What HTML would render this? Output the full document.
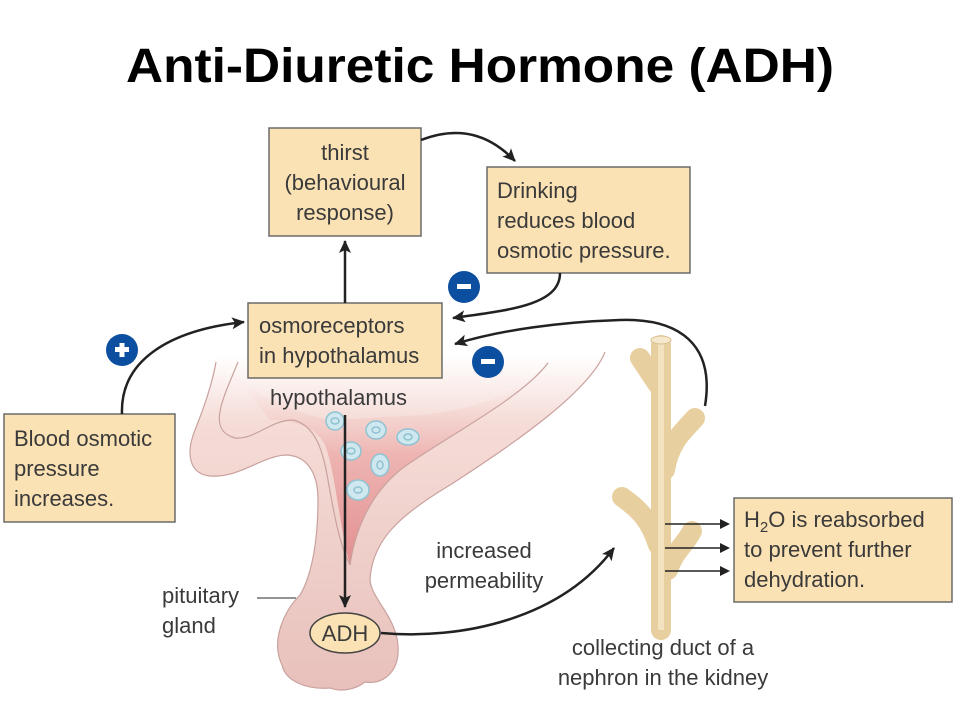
<!DOCTYPE html>
<html><head><meta charset="utf-8"><style>
html,body{margin:0;padding:0;background:#fff;}
svg{display:block}
text{font-family:"Liberation Sans",sans-serif;fill:#3a3a3a;font-size:22px}
</style></head><body>
<svg width="960" height="720" viewBox="0 0 960 720" xmlns="http://www.w3.org/2000/svg">
<defs>
<marker id="ah" markerWidth="10" markerHeight="10" refX="8" refY="5" orient="auto" markerUnits="userSpaceOnUse">
<path d="M0,0 L10,5 L0,10 z" fill="#222"/></marker>
<marker id="ah2" markerWidth="14" markerHeight="14" refX="12" refY="7" orient="auto" markerUnits="userSpaceOnUse">
<path d="M0,1 L13,7 L0,13 L3,7 z" fill="#222"/></marker>
<linearGradient id="pk" x1="0" y1="355" x2="0" y2="692" gradientUnits="userSpaceOnUse">
<stop offset="0" stop-color="#ffffff"/><stop offset="0.2" stop-color="#f5dcd7"/><stop offset="1" stop-color="#e8c0bb"/></linearGradient>
<linearGradient id="red" x1="0" y1="380" x2="0" y2="565" gradientUnits="userSpaceOnUse">
<stop offset="0" stop-color="#f6dedb" stop-opacity="0"/><stop offset="0.4" stop-color="#eeb5b2"/><stop offset="1" stop-color="#e38f90"/></linearGradient>
</defs>
<text x="480" y="82" text-anchor="middle" font-weight="bold" style="font-size:48px;fill:#000" textLength="708" lengthAdjust="spacingAndGlyphs">Anti-Diuretic Hormone (ADH)</text>

<!-- hypothalamus / pituitary shape -->
<path d="M215,355 L603,355 C590,390 520,440 450,485 C400,515 372,540 370,580 C372,600 395,615 398,645 C400,670 385,685 365,682 C355,690 340,692 330,688 C305,690 285,680 282,665 C270,640 285,610 300,595 C312,575 318,540 318,500 C318,470 305,455 285,455 C260,457 240,478 210,476 C190,474 185,455 195,430 C205,405 213,380 215,355 Z" fill="url(#pk)"/>
<path d="M605,352 C590,390 520,440 450,485 C400,515 372,540 370,580 C372,600 395,615 398,645 C400,670 385,685 365,682 C355,690 340,692 330,688 C305,690 285,680 282,665 C270,640 285,610 300,595 C312,575 318,540 318,500 C318,470 305,455 285,455 C260,457 240,478 210,476 C190,474 185,455 195,430 C205,405 213,380 216,362" fill="none" stroke="#c9a29e" stroke-width="1.2"/>
<path d="M238,380 C260,395 300,415 330,420 L420,415 C470,410 520,395 548,363 C520,400 440,440 400,470 C370,495 355,530 350,565 C340,530 335,470 325,445 C315,425 290,420 270,420 Z" fill="url(#red)"/>
<path d="M238,362 C225,395 205,430 235,438 C255,440 270,420 293,420 C315,425 323,450 328,480 C335,520 340,545 350,565" fill="none" stroke="#c9a29e" stroke-width="1.2"/>
<path d="M548,363 C520,400 440,440 400,470 C370,495 355,530 350,565" fill="none" stroke="#c9a29e" stroke-width="1.2"/>
<!-- cells -->
<g fill="#cfe7ee" stroke="#8fc3d2" stroke-width="1.5">
<ellipse cx="335" cy="421" rx="9" ry="9"/><ellipse cx="376" cy="430" rx="10" ry="9"/><ellipse cx="408" cy="437" rx="11" ry="8"/>
<ellipse cx="351" cy="451" rx="10" ry="9"/><ellipse cx="380" cy="465" rx="9" ry="11"/><ellipse cx="358" cy="490" rx="11" ry="10"/>
</g>
<g fill="none" stroke="#8fc3d2" stroke-width="1.5">
<ellipse cx="335" cy="421" rx="4" ry="3"/><ellipse cx="376" cy="430" rx="4" ry="3"/><ellipse cx="408" cy="437" rx="4" ry="3"/>
<ellipse cx="351" cy="451" rx="4" ry="3"/><ellipse cx="380" cy="465" rx="3" ry="4"/><ellipse cx="358" cy="490" rx="4" ry="3"/>
</g>

<!-- collecting duct -->
<g stroke="#e8cf9f" stroke-width="20" stroke-linecap="round" fill="none">
<path d="M661,345 L661,630"/>
<path d="M640,358 L658,385"/>
<path d="M695,418 C685,430 670,440 665,470"/>
<path d="M622,497 C640,510 650,520 658,545"/>
<path d="M692,531 C685,545 675,550 668,570"/>
</g>
<path d="M661,340 L661,630" stroke="#f3e2c0" stroke-width="6"/>
<ellipse cx="661" cy="340" rx="10" ry="4" fill="#f6e8cc" stroke="#d8bd8a"/>
<g stroke="#222" stroke-width="1.5" marker-end="url(#ah)">
<line x1="665" y1="524" x2="728" y2="524"/>
<line x1="665" y1="548" x2="728" y2="548"/>
<line x1="665" y1="571" x2="728" y2="571"/>
</g>

<!-- boxes -->
<g fill="#fbe2b4" stroke="#6b6b6b" stroke-width="1.5">
<rect x="269" y="128" width="152" height="108"/>
<rect x="487" y="167" width="203" height="106"/>
<rect x="248" y="303" width="194" height="75"/>
<rect x="4" y="414" width="171" height="108"/>
<rect x="734" y="498" width="218" height="104"/>
</g>
<text x="345" y="160" text-anchor="middle">thirst</text>
<text x="345" y="190" text-anchor="middle">(behavioural</text>
<text x="345" y="220" text-anchor="middle">response)</text>
<text x="497" y="198">Drinking</text>
<text x="497" y="228">reduces blood</text>
<text x="497" y="258">osmotic pressure.</text>
<text x="259" y="333">osmoreceptors</text>
<text x="259" y="363">in hypothalamus</text>
<text x="14" y="446">Blood osmotic</text>
<text x="14" y="476">pressure</text>
<text x="14" y="506">increases.</text>
<text x="744" y="527">H<tspan style="font-size:15px" dy="5">2</tspan><tspan dy="-5">O is reabsorbed</tspan></text>
<text x="744" y="557">to prevent further</text>
<text x="744" y="587">dehydration.</text>

<text x="270" y="405">hypothalamus</text>
<text x="162" y="603">pituitary</text>
<text x="162" y="633">gland</text>
<line x1="257" y1="598" x2="296" y2="598" stroke="#555" stroke-width="1.2"/>
<text x="484" y="558" text-anchor="middle">increased</text>
<text x="484" y="588" text-anchor="middle">permeability</text>
<text x="663" y="655" text-anchor="middle">collecting duct of a</text>
<text x="663" y="685" text-anchor="middle">nephron in the kidney</text>

<!-- arrows -->
<g fill="none" stroke="#222" stroke-width="2.5" marker-end="url(#ah2)">
<line x1="345" y1="303" x2="345" y2="241"/>
<path d="M421,140 C460,125 490,135 515,161"/>
<path d="M560,273 C560,305 510,310 453,318"/>
<path d="M705,406 C715,345 680,318 620,320 C560,322 500,330 455,344"/>
<path d="M122,414 C120,360 170,330 244,322"/>
<line x1="345" y1="415" x2="345" y2="607"/>
<path d="M381,633 C460,640 560,620 614,548"/>
</g>
<ellipse cx="345" cy="633" rx="35" ry="20" fill="#fbe2b4" stroke="#444" stroke-width="1.5"/>
<text x="345" y="641" text-anchor="middle">ADH</text>

<!-- signs -->
<g fill="#0c4fa0">
<circle cx="464" cy="287" r="16"/><circle cx="488" cy="362" r="16"/><circle cx="122" cy="350" r="16"/>
</g>
<g fill="#fff">
<rect x="457" y="284" width="14" height="5"/><rect x="481" y="359" width="14" height="5"/>
<rect x="115" y="347" width="14" height="5"/><rect x="119.5" y="343" width="5" height="14"/>
</g>
</svg>
</body></html>
